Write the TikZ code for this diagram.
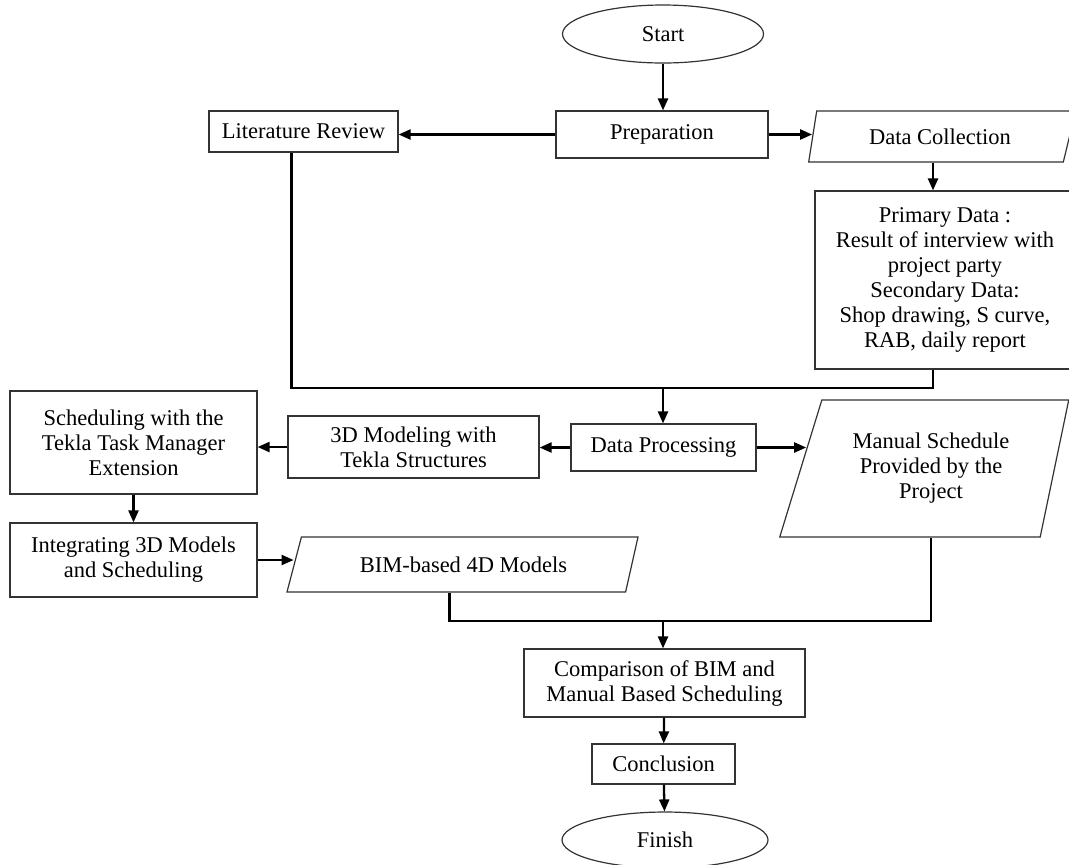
\documentclass[tikz,border=0pt]{standalone}
\usepackage{fontspec}
\setmainfont{Liberation Serif}
\usetikzlibrary{arrows.meta,shapes.geometric}
\tikzset{
  chart/.style={font=\fontsize{11.25}{12.5}\selectfont,x=0.5pt,y=-0.5pt},
  process/.style={draw=black!80,line width=0.6pt,align=center,inner sep=2pt},
  io/.style={trapezium,trapezium stretches body,draw=black!80,line width=0.6pt,
    align=center,inner sep=1pt},
  terminal/.style={ellipse,draw=black!80,line width=0.6pt,inner sep=1pt},
  link/.style={line width=1.15pt},
  flow/.style={link,-{Triangle[length=6pt,width=5pt]}},
}
\begin{document}
\begin{tikzpicture}[chart]
  \useasboundingbox (0,0) rectangle (1069,864);

  % top row
  \node[terminal,minimum width=100.5pt,minimum height=29pt] (start) at (663,34) {Start};
  \node[process,minimum width=106pt,minimum height=23.5pt] (prep) at (662,134.5) {Preparation};
  \node[process,minimum width=94.5pt,minimum height=20.5pt] (lit) at (303.5,131.5) {Literature Review};
  \node[io,trapezium left angle=68,trapezium right angle=122,
        minimum width=133.5pt,minimum height=25.5pt] (dc) at (940,136.5) {Data Collection};
  \node[process,minimum width=130pt,minimum height=89pt] (prim) at (945,280)
    {Primary Data :\\Result of interview with\\project party\\Secondary Data:\\Shop drawing, S curve,\\RAB, daily report};

  % middle row
  \node[process,minimum width=92.5pt,minimum height=23.5pt] (dp) at (663.5,447.5) {Data Processing};
  \node[process,minimum width=125.5pt,minimum height=31pt] (tekla) at (413.5,447) {3D Modeling with\\Tekla Structures};
  \node[process,minimum width=123.5pt,minimum height=51.5pt] (sched) at (133.5,442.5)
    {Scheduling with the\\Tekla Task Manager\\Extension};
  \node[process,minimum width=123.5pt,minimum height=37pt] (integ) at (133.5,560)
    {Integrating 3D Models\\and Scheduling};
  \node[io,trapezium left angle=54,trapezium right angle=122,
        minimum width=175.5pt,minimum height=27.5pt] (bim) at (463.5,564.5) {BIM-based 4D Models};
  \node[io,trapezium left angle=60.5,trapezium right angle=111,
        minimum width=144.5pt,minimum height=68.5pt] (manual) at (931,468.5)
    {Manual Schedule\\Provided by the\\Project};

  % bottom
  \node[process,minimum width=140.5pt,minimum height=34pt] (comp) at (664.5,683)
    {Comparison of BIM and\\Manual Based Scheduling};
  \node[process,minimum width=71.5pt,minimum height=20pt] (concl) at (663.5,764) {Conclusion};
  \node[terminal,minimum width=103pt,minimum height=28pt] (finish) at (665,840) {Finish};

  \coordinate (rcol) at (933,0);
  \coordinate (join1) at (663,388);
  \coordinate (join2) at (663,621);

  % connectors
  \draw[flow] (start) -- (start |- prep.north);
  \draw[flow] (prep.west) -- (prep.west -| lit.east);
  \draw[flow] (prep.east) -- (prep.east -| dc.west);
  \draw[flow] (dc.south -| rcol) -- (prim.north -| rcol);
  \draw[link] ([xshift=-6pt]lit.south) |- (join1 -| rcol) -- (prim.south -| rcol);
  \draw[flow] (join1) -- (join1 |- dp.north);
  \draw[flow] (dp.west) -- (dp.west -| tekla.east);
  \draw[flow,shorten >=-3pt] (dp.east) -- (dp.east -| manual.west);
  \draw[flow] (tekla.west) -- (tekla.west -| sched.east);
  \draw[flow] (sched) -- (integ);
  \draw[flow] (integ.east) -- (integ.east -| bim.west);
  \draw[link] ([xshift=-7pt]bim.south) |- (join2) -| (manual.south);
  \draw[flow] (join2) -- (join2 |- comp.north);
  \draw[flow] (comp) -- (concl);
  \draw[flow] (concl) -- (finish);
\end{tikzpicture}
\end{document}
